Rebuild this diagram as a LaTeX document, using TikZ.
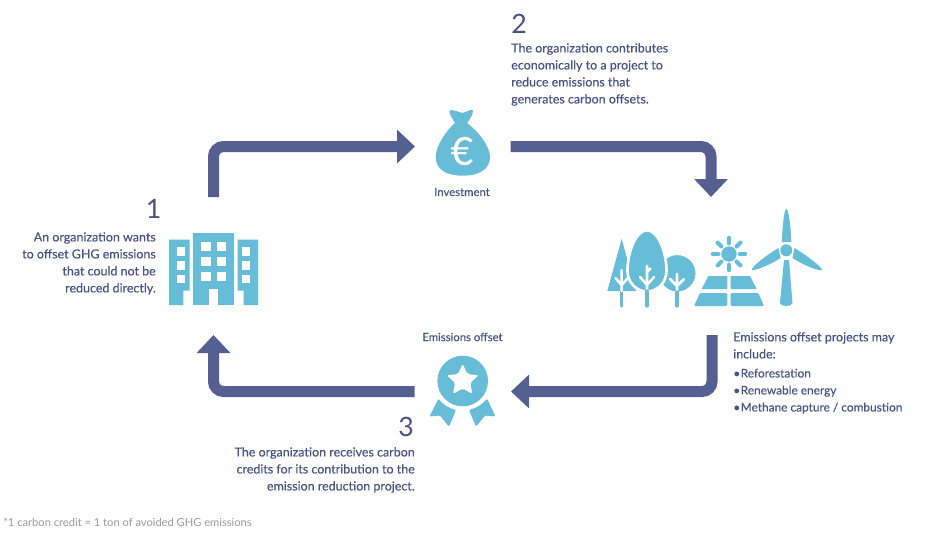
\documentclass[tikz,border=0pt]{standalone}
\usepackage{fontspec}
\setmainfont{Lato}[FakeBold=0.25]
\newfontfamily\plainfont{Lato}
\usetikzlibrary{arrows.meta,shapes.geometric}
\definecolor{flow}{HTML}{565F92}
\definecolor{ink}{HTML}{4A5386}
\definecolor{icon}{HTML}{67BCD8}
\definecolor{fine}{HTML}{9A9A9A}
\tikzset{
  flowline/.style={draw=flow,line width=8.25pt,rounded corners=7.5pt,-{Triangle[length=13.5pt,width=24.5pt,fill=flow]}},
  body/.style={text=ink,font=\fontsize{9.35pt}{12.75pt}\selectfont,inner sep=0pt},
  listtext/.style={text=ink,font=\fontsize{8.9pt}{12.75pt}\selectfont,inner sep=0pt},
  num/.style={text=ink,font=\plainfont\fontsize{20pt}{20pt}\selectfont,inner sep=0pt},
  captext/.style={text=ink,font=\fontsize{8.5pt}{10pt}\selectfont,inner sep=0pt},
  ico/.style={fill=icon,draw=none},
  gap/.style={draw=white,line cap=round,line width=1.9pt},
  trunk/.style={draw=icon,line cap=round,line width=2.4pt},
  ray/.style={draw=icon,line cap=round,line width=3pt},
  hole/.style={fill=white,draw=none}
}
\newcommand{\bul}{•\hspace{0.05em}}
\begin{document}
\begin{tikzpicture}[x=0.75pt,y=-0.75pt]
\useasboundingbox (0,0) rectangle (925,535);
\fill[white] (0,0) rectangle (925,535);
% named connector ends
\coordinate (a1) at (213.5,197);
\coordinate (a1c) at (213.5,146.5);
\coordinate (a1e) at (415,146.5);
\coordinate (a2) at (510.5,146.5);
\coordinate (a2c) at (711,146.5);
\coordinate (a2e) at (711,197);
\coordinate (a3) at (712,335);
\coordinate (a3c) at (712,391.5);
\coordinate (a3e) at (511,391.5);
\coordinate (a4) at (414.5,391.5);
\coordinate (a4c) at (213.5,391.5);
\coordinate (a4e) at (213.5,335);
\draw[flowline] (a1) -- (a1c) -- (a1e);
\draw[flowline] (a2) -- (a2c) -- (a2e);
\draw[flowline] (a3) -- (a3c) -- (a3e);
\draw[flowline] (a4) -- (a4c) -- (a4e);
% texts
\node[num,anchor=center] (n1) at (153.5,209) {1};
\node[num,anchor=center] (n2) at (519,24) {2};
\node[num,anchor=center] (n3) at (406,427) {3};
\node[body,anchor=north east,align=right] (t1) at (156,232) {An organization wants\\to offset GHG emissions\\that could not be\\reduced directly.};
\node[body,anchor=north west,align=left] (t2) at (511,43) {The organization contributes\\economically to a project to\\reduce emissions that\\generates carbon offsets.};
\node[body,anchor=north east,align=right] (t3) at (415,447) {The organization receives carbon\\credits for its contribution to the\\emission reduction project.};
\node[body,anchor=north west,align=left] (t4) at (733,332) {Emissions offset projects may\\include:};
\node[listtext,anchor=north west,align=left] (t5) at (733,368.5) {\bul Reforestation\\\bul Renewable energy\\\bul Methane capture / combustion};
\node[captext] (capa) at (462,192) {Investment};
\node[captext] (capb) at (462.5,337) {Emissions offset};
\node[anchor=west,text=fine,inner sep=0pt,font=\plainfont\fontsize{8.35pt}{10pt}\selectfont] (foot) at (3,522.5) {*1 carbon credit = 1 ton of avoided GHG emissions};
% building
\fill[ico] (193,233) rectangle (234,305);
\fill[ico] (169,239.5) -- (189.7,239.5) -- (189.7,290.7) -- (183.3,290.7) -- (183.3,305) -- (169,305) -- cycle;
\fill[ico] (258,239.5) -- (237.7,239.5) -- (237.7,290.7) -- (243.7,290.7) -- (243.7,305) -- (258,305) -- cycle;
\fill[hole] (209,289) rectangle (218,305);
\foreach \wx in {201.3,216.5}{\foreach \wy in {241.7,257,272.3}{\fill[hole] (\wx,\wy) rectangle ++(9.3,9);}}
\foreach \wx in {176.7,242}{\foreach \wy in {247.3,261,274.7}{\fill[hole] (\wx,\wy) rectangle ++(8.4,8.6);}}
% money bag
\fill[ico] (455,123) .. controls (452,118) and (449,114) .. (449.5,110.5)
  .. controls (453,109) and (458,112) .. (462.5,113) .. controls (467,112) and (471,108.5) .. (473,110.5)
  .. controls (473,115) and (470,119) .. (467,123)
  .. controls (478,131) and (490,146) .. (490,157) .. controls (490,170) and (478,175.7) .. (463,175.7)
  .. controls (447,175.7) and (435.7,170) .. (435.7,157) .. controls (435.7,146) and (446,131) .. (455,123) -- cycle;
\node[text=white,inner sep=0pt,font=\fontsize{29pt}{29pt}\selectfont] (euro) at (462,151) {€};
% award
\fill[ico] (462.7,381) circle[radius=25.3];
\node[star,star points=5,star point ratio=2.1,minimum size=25pt,inner sep=0pt,fill=white,rounded corners=1.5pt] (strb) at (462.7,380.5) {};
\fill[ico,rounded corners=1pt] (438.5,398.5) .. controls (443,405) and (449,408) .. (456,410) -- (449,426.7) -- (440,415.5) -- (429.5,416.5) -- cycle;
\fill[ico,rounded corners=1pt] (487,398.5) .. controls (482,405) and (476,408) .. (469,410) -- (476,426.7) -- (485,415.5) -- (495.5,416.5) -- cycle;
% trees
\fill[ico] (621.7,239) -- (607.3,291) -- (636,291) -- cycle;
\draw[trunk] (621.7,291) -- (621.7,306);
\draw[gap] (621.7,270) -- (621.7,291) (615.5,278) -- (621.7,285) -- (628,278);
\fill[ico,draw=white,line width=1.6pt] (677.3,273.3) circle[radius=19.3];
\draw[gap] (677,274) -- (677,292) (670,279) -- (677,286) -- (684,279);
\draw[trunk] (677,292) -- (677,306);
\fill[ico,draw=white,line width=2pt] (647,230.2) .. controls (657,230.2) and (666.5,250) .. (666.5,271)
  .. controls (666.5,283) and (657,291.5) .. (647,291.5)
  .. controls (637,291.5) and (627.5,283) .. (627.5,271)
  .. controls (627.5,250) and (637,230.2) .. (647,230.2) -- cycle;
\draw[gap] (647,266) -- (647,291) (640,277) -- (647,285) -- (654,277) (647,272) -- (650.5,268.5);
\draw[trunk] (647,291) -- (647,306);
% sun
\fill[ico] (729,254) circle[radius=7.7];
\foreach \a in {0,45,...,315}{\draw[ray] (729,254) ++(\a:10.6) -- ++(\a:5.6);}
% solar panels
\fill[ico,rounded corners=.5pt] (708.3,276) -- (727.3,276) -- (727.3,289) -- (701.7,289) -- cycle;
\fill[ico,rounded corners=.5pt] (730.7,276) -- (750,276) -- (756.7,289) -- (730.7,289) -- cycle;
\fill[ico,rounded corners=.8pt] (700,293) -- (727.3,293) -- (727.3,306) -- (694,306) -- cycle;
\fill[ico,rounded corners=.8pt] (730.7,293) -- (758.3,293) -- (764,306) -- (730.7,306) -- cycle;
% wind turbine
\fill[ico] (781.7,242) .. controls (782.5,228) and (784,209) .. (786.3,209) .. controls (788.7,209) and (791,228) .. (791.3,242) -- cycle;
\fill[ico] (778.5,248) .. controls (767,255) and (752,266) .. (751.7,270) .. controls (755,271) and (770,265) .. (780.5,258) -- cycle;
\fill[ico] (794.5,248) .. controls (806,255) and (821,266) .. (822,270) .. controls (818,271) and (803,265) .. (792.5,258) -- cycle;
\fill[ico] (784,260) -- (789,260) -- (792.5,303) .. controls (792.5,307) and (780,307) .. (780,303) -- cycle;
\fill[ico] (786.3,250.3) circle[radius=6];
\end{tikzpicture}
\end{document}
